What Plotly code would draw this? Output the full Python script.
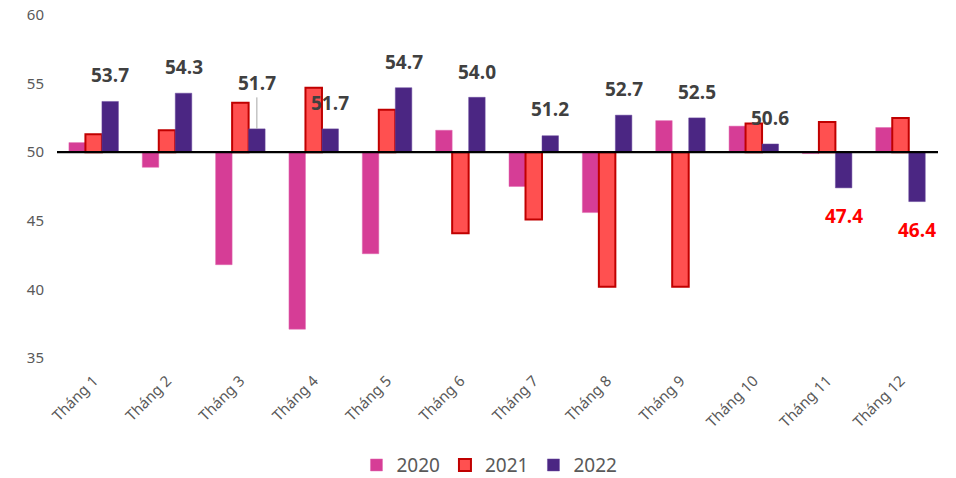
import plotly.graph_objects as go

months = ["Tháng 1", "Tháng 2", "Tháng 3", "Tháng 4", "Tháng 5", "Tháng 6",
          "Tháng 7", "Tháng 8", "Tháng 9", "Tháng 10", "Tháng 11", "Tháng 12"]
v2020 = [50.7, 48.9, 41.8, 37.1, 42.6, 51.6, 47.5, 45.6, 52.3, 51.9, 49.9, 51.8]
v2021 = [51.3, 51.6, 53.6, 54.7, 53.1, 44.1, 45.1, 40.2, 40.2, 52.1, 52.2, 52.5]
v2022 = [53.7, 54.3, 51.7, 51.7, 54.7, 54.0, 51.2, 52.7, 52.5, 50.6, 47.4, 46.4]
base = 50

# label placement (pixels from bar end)
label_shift = [26, 26, 46, 26, 26, 25, 27, 26, 26, 26, -28, -28]

BARGAP = 0.325
fig = go.Figure()
fig.add_trace(go.Bar(name="2020", x=months, y=[v - base for v in v2020], base=base,
                     marker=dict(color="#D63D96", line=dict(color="#E06AB0", width=0.5))))
fig.add_trace(go.Bar(name="2021", x=months, y=[v - base for v in v2021], base=base,
                     marker=dict(color="#FF5050", line=dict(color="#C00000", width=2))))
fig.add_trace(go.Bar(name="2022", x=months, y=[v - base for v in v2022], base=base,
                     marker=dict(color="#4B2683", line=dict(color="#6A4A9E", width=0.5))))

off = (1 - BARGAP) / 3
anns = []
for i, (v, s) in enumerate(zip(v2022, label_shift)):
    neg = v < base
    color = "#FF0000" if neg else "#404040"
    if i == 2:
        anns.append(dict(x=i + off, y=v, xref="x", yref="y", text=f"{v:.1f}",
                         showarrow=True, arrowhead=0, arrowcolor="#A6A6A6", arrowwidth=1,
                         ax=0, ay=-s, standoff=0,
                         font=dict(family="Open Sans", size=19, color=color, weight="bold")))
    else:
        anns.append(dict(x=i + off, y=v, xref="x", yref="y", text=f"{v:.1f}",
                         showarrow=False, yshift=s, yanchor="middle",
                         font=dict(family="Open Sans", size=19, color=color, weight="bold")))

fig.update_layout(
    width=956, height=478,
    margin=dict(l=57, r=18, t=15, b=120, autoexpand=False),
    plot_bgcolor="white", paper_bgcolor="white",
    barmode="group", bargap=BARGAP, bargroupgap=0,
    font=dict(family="Noto Sans", color="#595959"),
    showlegend=True,
    legend=dict(orientation="h", x=0.512, xanchor="center", xref="container",
                y=0.027, yanchor="middle", yref="container",
                font=dict(size=19, color="#595959"), itemwidth=30, traceorder="normal"),
    annotations=anns,
    shapes=[dict(type="line", xref="paper", yref="y", x0=0, x1=1, y0=base, y1=base,
                 line=dict(color="black", width=2.2), layer="above")],
)
fig.update_xaxes(type="category", tickangle=-45, showgrid=False, showline=False,
                 tickfont=dict(size=15, color="#595959"), ticks="", automargin=False,
                 ticklabelstandoff=10)
fig.update_yaxes(range=[35, 60], tickvals=[35, 40, 45, 50, 55, 60], showgrid=False,
                 zeroline=False, showline=False, ticks="", ticklabelstandoff=12,
                 ticklabeloverflow="allow",
                 tickfont=dict(size=15, color="#595959"), automargin=False)

fig.write_html("out.html", config={"displayModeBar": False},
               post_script="document.body.style.margin='0';")
